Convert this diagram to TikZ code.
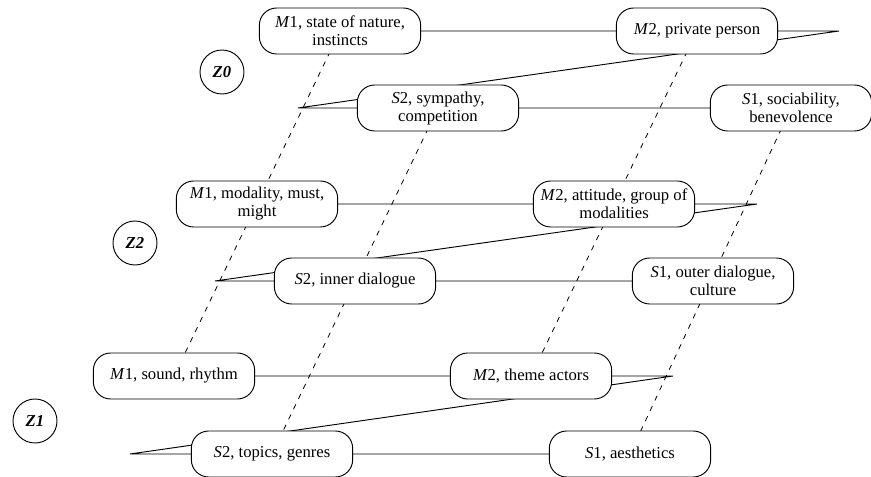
\documentclass[tikz,border=0pt]{standalone}
\usepackage{fontspec}
\setmainfont{Liberation Serif}
\usetikzlibrary{backgrounds}
\tikzset{bx/.style={draw,rounded corners=13pt,fill=white,align=center,minimum width=121pt,minimum height=34.5pt,inner sep=2pt,line width=0.7pt},
  lev/.style={draw,circle,fill=white,minimum size=33pt,inner sep=0pt,line width=0.7pt,font=\fontsize{12.5}{13.5}\selectfont\bfseries\itshape},
  link/.style={line width=0.7pt},
  vert/.style={line width=0.6pt,dash pattern=on 4pt off 4.5pt}}

\begin{document}
\begin{tikzpicture}[x=0.75pt,y=-0.75pt,font=\fontsize{12.5}{13.5}\selectfont]
    \useasboundingbox (0,0) rectangle (871,477);
    % level Z0
    \node[bx] (m1a) at (340,31) {\textit{M}1, state of nature,\\instincts};
    \node[bx] (m2a) at (697,31) {\textit{M}2, private person};
    \node[bx] (s2a) at (438,108) {\textit{S}2, sympathy,\\competition};
    \node[bx] (s1a) at (791,108) {\textit{S}1, sociability,\\benevolence};
    \coordinate (ra) at (839,31);
    \coordinate (la) at (298,108);
    \node[lev] (z0) at (222,72) {Z0};
    % level Z2
    \node[bx] (m1b) at (257,204) {\textit{M}1, modality, must,\\might};
    \node[bx] (m2b) at (614,204) {\textit{M}2, attitude, group of\\modalities};
    \node[bx] (s2b) at (355,281) {\textit{S}2, inner dialogue};
    \node[bx] (s1b) at (713,281) {\textit{S}1, outer dialogue,\\culture};
    \coordinate (rb) at (757,204);
    \coordinate (lb) at (215,281);
    \node[lev] (z2) at (135,243) {Z2};
    % level Z1
    \node[bx] (m1c) at (174,376) {\textit{M}1, sound, rhythm};
    \node[bx] (m2c) at (531,376) {\textit{M}2, theme actors};
    \node[bx] (s2c) at (272,454) {\textit{S}2, topics, genres};
    \node[bx] (s1c) at (630,454) {\textit{S}1, aesthetics};
    \coordinate (rc) at (673,376);
    \coordinate (lc) at (130,454);
    \node[lev] (z1) at (35,421) {Z1};
    \begin{scope}[on background layer]
      \draw[link] (m1a)--(m2a)--(ra)--(la)--(s2a)--(s1a);
      \draw[link] (m1b)--(m2b)--(rb)--(lb)--(s2b)--(s1b);
      \draw[link] (m1c)--(m2c)--(rc)--(lc)--(s2c)--(s1c);
      \draw[vert] (m1a.center)--(m1c.center);
      \draw[vert] (m2a.center)--(m2c.center);
      \draw[vert] (s2a.center)--(s2c.center);
      \draw[vert] (s1a.center)--(s1c.center);
    \end{scope}
  \end{tikzpicture}
\end{document}
